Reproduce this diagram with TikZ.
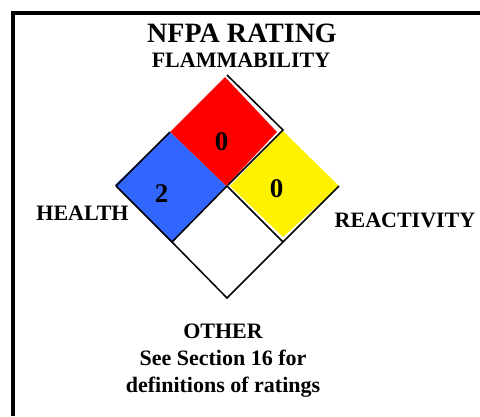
\documentclass[tikz,border=0pt]{standalone}
\usepackage{fontspec}
\setmainfont{Liberation Serif}
\usepackage{xcolor}
\usetikzlibrary{positioning}
\definecolor{azul}{RGB}{51,102,255}
\tikzset{
  rotulo/.style={font=\bfseries\fontsize{22}{27}\selectfont, anchor=base, inner sep=0pt},
  numero/.style={font=\bfseries\fontsize{27}{27}\selectfont, anchor=base, inner sep=0pt},
}
\begin{document}
\begin{tikzpicture}[x=1pt, y=-1pt, line width=1.5pt]
			\useasboundingbox (0,0) rectangle (480,416);
			% moldura
			\draw [line width=4pt] (13,416) -- (13,13) -- (480,13);
			
			% vertices do losango
			\coordinate (topo) at (227,75);
			\coordinate (centro) at (227,186);
			\coordinate (esq) at (116,186);
			\coordinate (dir) at (339,186);
			\coordinate (baixo) at (227,298);
			
			% quadrados coloridos
			\fill [red] (225,77) -- (170,132) -- (226,186) -- (277,132) -- cycle;
			\fill [azul] (170,132) -- (115,185) -- (172,243) -- (226,186) -- cycle;
			\fill [yellow] (283,131) -- (230,186) -- (283,237) -- (339,186) -- cycle;
			
			% linhas pretas
			\draw (topo) -- (283,130) -- (228,185);
			\draw (esq) -- (170,132);
			\draw (esq) -- (172,242) -- (baixo) -- (283,242) -- (dir);
			\draw (172,242) -- (centro) -- (283,242);
			
			% numeros
			\node [numero] (inflamab) at (221.7,150) {0};
			\node [numero] (saude) at (161.7,202) {2};
			\node [numero] (reativ) at (276.7,197) {0};
			
			% textos
			\node [rotulo, font=\bfseries\fontsize{28}{28}\selectfont] (titulo) at (242,42) {NFPA RATING};
			\node [rotulo] (flam) at (241,67) {FLAMMABILITY};
			\node [rotulo] (health) at (82.5,220) {HEALTH};
			\node [rotulo] (react) at (405,227) {REACTIVITY};
			\node [rotulo, align=center] (other) at (223,392) {OTHER\\See Section 16 for\\definitions of ratings};
		\end{tikzpicture}
\end{document}
